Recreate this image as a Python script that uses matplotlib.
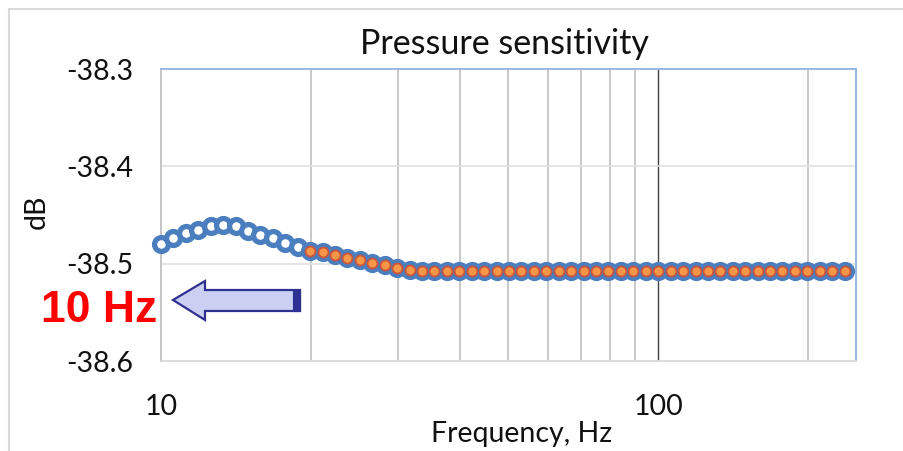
import matplotlib
matplotlib.use("Agg")
import matplotlib.pyplot as plt
from matplotlib.patches import Polygon, Rectangle
from matplotlib.ticker import FixedLocator, NullFormatter

plt.rcParams['font.family'] = ['Lato', 'DejaVu Sans']

# Frequencies (Hz) (about 40 points per decade)
freq = [10.0, 10.59, 11.22, 11.89, 12.59, 13.34, 14.13, 14.96, 15.85, 16.79,
        17.78, 18.84, 19.95, 21.13, 22.39, 23.71, 25.12, 26.61, 28.18, 29.85,
        31.62, 33.50, 35.48, 37.58, 39.81, 42.17, 44.67, 47.32, 50.12, 53.09,
        56.23, 59.57, 63.10, 66.83, 70.79, 74.99, 79.43, 84.14, 89.13, 94.41,
        100.0, 105.9, 112.2, 118.9, 125.9, 133.4, 141.3, 149.6, 158.5, 167.9,
        177.8, 188.4, 199.5, 211.3, 223.9, 237.1]

# Pressure sensitivity (dB)
sens = [-38.480, -38.474, -38.469, -38.465, -38.461, -38.460, -38.461, -38.466,
        -38.471, -38.474, -38.479, -38.483, -38.487, -38.488, -38.491, -38.494,
        -38.496, -38.499, -38.501, -38.504, -38.506, -38.508, -38.508, -38.508,
        -38.508, -38.508, -38.508, -38.508, -38.508, -38.508, -38.508, -38.508,
        -38.508, -38.508, -38.508, -38.508, -38.508, -38.508, -38.508, -38.508,
        -38.508, -38.508, -38.508, -38.508, -38.508, -38.508, -38.508, -38.508,
        -38.508, -38.508, -38.508, -38.508, -38.508, -38.508, -38.508, -38.508]

# Highlighted range starts at 20 Hz
hl_start = 12
freq_hl = freq[hl_start:]
sens_hl = sens[hl_start:]

y_ticks = [-38.6, -38.5, -38.4, -38.3]
y_tick_labels = ['-38.6', '-38.5', '-38.4', '-38.3']
x_ticks = [10, 100]
x_tick_labels = ['10', '100']
x_grid = [20, 30, 40, 50, 60, 70, 80, 90, 200]

W, H = 904, 451
fig = plt.figure(figsize=(W / 100, H / 100), dpi=100)

def px(x0, y0, x1, y1):
    return [x0 / W, 1 - y1 / H, (x1 - x0) / W, (y1 - y0) / H]

# outer chart frame
fig.patches.append(Rectangle((9 / W, -0.1), 1.2, 1 - 9 / H + 0.1,
                             transform=fig.transFigure, fill=False,
                             edgecolor='#D9D9D9', linewidth=1.5))

ax = fig.add_axes(px(161, 69, 856, 361))
ax.set_xscale('log')
ax.set_xlim(10, 250)
ax.set_ylim(-38.6, -38.3)

# gridlines
for g in x_grid:
    ax.axvline(g, color='#BFBFBF', lw=1.2, zorder=0)
ax.axvline(100, color='#404040', lw=1.0, zorder=0)
for g in y_ticks[1:3]:
    ax.axhline(g, color='#E0E0E0', lw=1.2, zorder=0)

ax.plot(freq, sens, linestyle='none', marker='o', ms=10.0, mew=3.8,
        mfc='white', mec='#4A7EBF', zorder=3, clip_on=False)
ax.plot(freq_hl, sens_hl, linestyle='none', marker='o', ms=7.2, mew=1.3,
        mfc='#F79646', mec='#C8553D', zorder=4, clip_on=False)

ax.set_yticks(y_ticks)
ax.set_yticklabels(y_tick_labels)
ax.xaxis.set_major_locator(FixedLocator(x_ticks))
ax.set_xticklabels(x_tick_labels)
ax.xaxis.set_minor_formatter(NullFormatter())
ax.tick_params(axis='both', which='both', length=0, labelsize=20.5, colors='#111111')
ax.tick_params(axis='y', pad=20)
ax.tick_params(axis='x', pad=24)

ax.spines['left'].set_color('#BFBFBF')
ax.spines['bottom'].set_color('#D9D9D9')
ax.spines['top'].set_color('#8EB4E3')
ax.spines['right'].set_color('#8EB4E3')
for s in ax.spines.values():
    s.set_linewidth(1.3)

fig.text(504 / W, 1 - 44 / H, 'Pressure sensitivity', ha='center', va='center',
         fontsize=24.5, color='#111111')
fig.text(522 / W, 1 - 434 / H, 'Frequency, Hz', ha='center', va='center',
         fontsize=20.5, color='#111111')
fig.text(37 / W, 1 - 212 / H, 'dB', ha='center', va='center', rotation=90,
         fontsize=20.5, color='#111111')

fig.text(99 / W, 1 - 311 / H, '10 Hz', ha='center', va='center',
         fontsize=32, fontweight='bold', color='#FF0000',
         family=['Liberation Sans', 'DejaVu Sans'])

# block arrow pointing left
def fp(x, y):
    return (x / W, 1 - y / H)

arrow_pts = [fp(173, 300), fp(205, 281), fp(205, 290), fp(300, 290),
             fp(300, 311), fp(205, 311), fp(205, 320)]
fig.patches.append(Polygon(arrow_pts, closed=True, transform=fig.transFigure,
                           facecolor='#CBD0F2', edgecolor='#2E3192', linewidth=1.6))
fig.patches.append(Rectangle(fp(293, 311), 7 / W, 21 / H, transform=fig.transFigure,
                             facecolor='#2E3192', edgecolor='#2E3192', linewidth=0.8))

fig.savefig('out.png', dpi=100)
